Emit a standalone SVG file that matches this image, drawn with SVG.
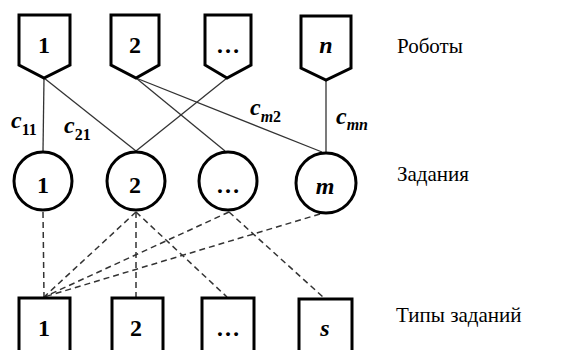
<svg xmlns="http://www.w3.org/2000/svg" width="573" height="350" viewBox="0 0 573 350" font-family="'Liberation Serif', 'DejaVu Serif', serif">
  <style>
    .shape { fill: #fff; stroke: #000; stroke-width: 3; }
    .edge { stroke: #333; stroke-width: 1.3; fill: none; }
    .dash { stroke: #333; stroke-width: 1.5; fill: none; stroke-dasharray: 6 4; }
    .num { font-weight: bold; font-size: 24px; text-anchor: middle; fill: #000; }
    .var { font-weight: bold; font-style: italic; font-size: 24px; text-anchor: middle; fill: #000; }
    .lbl { font-weight: bold; font-style: italic; font-size: 24px; fill: #000; }
    .sub { font-size: 16px; }
    .up { font-style: normal; }
    .title { font-size: 21px; fill: #000; }
  </style>

  <!-- connectors -->
  <g id="connectors">
    <!-- robot-to-task assignments -->
    <line class="edge" x1="44" y1="78" x2="43" y2="151"/>
    <line class="edge" x1="44" y1="78" x2="136" y2="151"/>
    <line class="edge" x1="136" y1="78" x2="225" y2="151"/>
    <line class="edge" x1="136" y1="78" x2="322" y2="152"/>
    <line class="edge" x1="227" y1="78" x2="136" y2="151"/>
    <line class="edge" x1="326" y1="80" x2="326" y2="152"/>
    <!-- task-to-type membership -->
    <line class="dash" x1="43" y1="212" x2="44" y2="297"/>
    <line class="dash" x1="136" y1="212" x2="44" y2="297"/>
    <line class="dash" x1="136" y1="212" x2="136" y2="297"/>
    <line class="dash" x1="136" y1="212" x2="227" y2="297"/>
    <line class="dash" x1="229" y1="212" x2="44" y2="297"/>
    <line class="dash" x1="229" y1="212" x2="323" y2="297"/>
    <line class="dash" x1="320" y1="214" x2="44" y2="297"/>
  </g>

  <!-- edge cost labels -->
  <g id="costs">
    <text class="lbl" x="11" y="128">c<tspan class="sub up" dy="7">11</tspan></text>
    <text class="lbl" x="64" y="133">c<tspan class="sub up" dy="7">21</tspan></text>
    <text class="lbl" x="250" y="115">c<tspan class="sub" dy="7">m</tspan><tspan class="sub up">2</tspan></text>
    <text class="lbl" x="336" y="124">c<tspan class="sub" dy="6">mn</tspan></text>
  </g>

  <!-- robots -->
  <g id="robot-1">
    <path class="shape" d="M19,15 H70 V65 L44,78 L19,65 Z"/>
    <text class="num" x="44" y="53">1</text>
  </g>
  <g id="robot-2">
    <path class="shape" d="M111,15 H159 V65 L136,78 L111,65 Z"/>
    <text class="num" x="135" y="53">2</text>
  </g>
  <g id="robot-dots">
    <path class="shape" d="M205,15 H251 V65 L227,78 L205,65 Z"/>
    <text class="num" x="228" y="53">…</text>
  </g>
  <g id="robot-n">
    <path class="shape" d="M301,16 H351 V68 L326,80 L301,68 Z"/>
    <text class="var" x="326" y="53">n</text>
  </g>

  <!-- tasks -->
  <g id="task-1">
    <circle class="shape" cx="43" cy="181" r="29"/>
    <text class="num" x="43" y="193">1</text>
  </g>
  <g id="task-2">
    <circle class="shape" cx="136" cy="181" r="29"/>
    <text class="num" x="135" y="193">2</text>
  </g>
  <g id="task-dots">
    <circle class="shape" cx="228" cy="181" r="29"/>
    <text class="num" x="228" y="193">…</text>
  </g>
  <g id="task-m">
    <circle class="shape" cx="326" cy="183" r="30"/>
    <text class="var" x="325" y="194">m</text>
  </g>

  <!-- task types -->
  <g id="type-1">
    <rect class="shape" x="19" y="298" width="51" height="70"/>
    <text class="num" x="44" y="336">1</text>
  </g>
  <g id="type-2">
    <rect class="shape" x="112" y="298" width="51" height="70"/>
    <text class="num" x="136" y="336">2</text>
  </g>
  <g id="type-dots">
    <rect class="shape" x="202" y="298" width="52" height="70"/>
    <text class="num" x="228" y="336">…</text>
  </g>
  <g id="type-s">
    <rect class="shape" x="299" y="299" width="53" height="70"/>
    <text class="var" x="325" y="336">s</text>
  </g>

  <!-- row captions -->
  <g id="captions">
    <text class="title" x="397" y="53">Роботы</text>
    <text class="title" x="397" y="181">Задания</text>
    <text class="title" x="396" y="322">Типы заданий</text>
  </g>
</svg>
